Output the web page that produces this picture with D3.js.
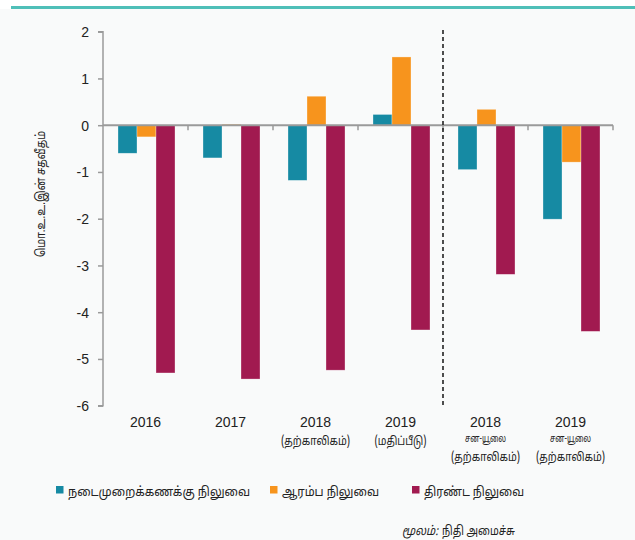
<!DOCTYPE html>
<html>
<head>
<meta charset="utf-8">
<script src="https://cdn.jsdelivr.net/npm/d3@7"></script>
<style>
  body { margin: 0; background: #ffffff; }
  svg { display: block; font-family: "Liberation Sans", Arial, sans-serif; }
  .ta { font-family: "Noto Sans Tamil", "Noto Sans Tamil UI", "Lohit Tamil", "Latha", "Noto Serif Tamil", "Liberation Sans", sans-serif; }
</style>
</head>
<body>
<svg id="chart" width="635" height="540"></svg>
<script>
// categories (main label + sub label lines)
const categories = ['2016', '2017', '2018', '2019', '2018 J', '2019 J'];
const catLabels = [
    ['2016'],
    ['2017'],
    ['2018', '(தற்காலிகம்)'],
    ['2019', '(மதிப்பீடு)'],
    ['2018', 'சன-யூலை', '(தற்காலிகம்)'],
    ['2019', 'சன-யூலை', '(தற்காலிகம்)']
];
const seriesNames = ['நடைமுறைக்கணக்கு  நிலுவை', 'ஆரம்ப  நிலுவை', 'திரண்ட  நிலுவை'];
const seriesColors = ['#168aa3', '#f7941d', '#a11a50'];
const currentBalance = [-0.6, -0.7, -1.18, 0.23, -0.95, -2.01];
const primaryBalance = [-0.25, 0.02, 0.62, 1.46, 0.34, -0.79];
const overallBalance = [-5.3, -5.43, -5.24, -4.38, -3.19, -4.41];
const yTicks = [2, 1, 0, -1, -2, -3, -4, -5, -6];

const series = [currentBalance, primaryBalance, overallBalance];

// rendered widths of the Tamil strings (reference font is narrower)
const tamilWidth = {
    '(தற்காலிகம்)': 69,
    '(மதிப்பீடு)': 52,
    'சன-யூலை': 41
};
const legendWidths = [182, 97, 100];

const svg = d3.select('#chart');
const plotLeft = 103, plotRight = 613, plotTop = 31.7, plotBottom = 405.7;

// page background and top rule
svg.append('rect').attr('x', 0).attr('y', 9).attr('width', 635).attr('height', 531).attr('fill', '#f9fafa');
svg.append('rect').attr('x', 11).attr('y', 6).attr('width', 624).attr('height', 3).attr('fill', '#4fbfb8');

const x = d3.scaleBand().domain(categories).range([plotLeft, plotRight]);
const xInner = d3.scaleBand().domain([0, 1, 2]).range([0, 57]);
const y = d3.scaleLinear().domain([-6, 2]).range([plotBottom, plotTop]);

// bars
series.forEach((vals, s) => {
    svg.append('g').selectAll('rect')
        .data(vals)
        .join('rect')
        .attr('x', (d, i) => x(categories[i]) + (x.bandwidth() - 57) / 2 + 1 + xInner(s))
        .attr('width', xInner.bandwidth())
        .attr('y', d => y(Math.max(0, d)))
        .attr('height', d => Math.abs(y(d) - y(0)))
        .attr('fill', seriesColors[s])
        .attr('stroke', 'rgba(255,255,255,0.5)')
        .attr('stroke-width', 0.6);
});

// y axis
let yAxis = d3.axisLeft(y).tickValues(yTicks).tickSize(5).tickPadding(9).tickFormat(d => String(d));
let yg = svg.append('g').attr('transform', `translate(${plotLeft},0)`).call(yAxis);
yg.attr('font-family', null);
yg.select('.domain').attr('stroke', '#9a9a9a').attr('stroke-width', 1.5).attr('d', `M-5,${plotTop}H0V${plotBottom}H-5`);
yg.selectAll('.tick line').attr('stroke', '#9a9a9a').attr('stroke-width', 1.5);
yg.selectAll('.tick text').attr('font-size', 14).attr('fill', '#222').attr('dy', '0.36em');

// x axis along zero
const boundaries = categories.map(c => x(c) + x.bandwidth());
svg.append('line').attr('x1', plotLeft).attr('x2', plotRight).attr('y1', y(0)).attr('y2', y(0))
    .attr('stroke', '#9a9a9a').attr('stroke-width', 2);
svg.append('g').selectAll('line')
    .data(boundaries)
    .join('line')
    .attr('x1', d => d).attr('x2', d => d)
    .attr('y1', y(0)).attr('y2', y(0) + 5)
    .attr('stroke', '#9a9a9a').attr('stroke-width', 1.5);

// dashed divider
svg.append('line')
    .attr('x1', x(categories[4])).attr('x2', x(categories[4]))
    .attr('y1', 30).attr('y2', 407)
    .attr('stroke', '#222').attr('stroke-width', 1.6)
    .attr('stroke-dasharray', '4,3');

// x labels
function tamilLabel(g, txt, yPos, size) {
    g.append('text').attr('class', 'ta')
        .attr('y', yPos).attr('x', -tamilWidth[txt] / 2)
        .attr('font-size', size).attr('fill', '#222')
        .attr('textLength', tamilWidth[txt]).attr('lengthAdjust', 'spacingAndGlyphs')
        .text(txt);
}
const labelG = svg.append('g').selectAll('g')
    .data(catLabels)
    .join('g')
    .attr('transform', (d, i) => `translate(${x(categories[i]) + x.bandwidth() / 2},0)`);
labelG.each(function (lines) {
    let g = d3.select(this);
    g.append('text').attr('y', 427).attr('text-anchor', 'middle').attr('font-size', 14).attr('fill', '#222').text(lines[0]);
    if (lines.length === 2) {
        tamilLabel(g, lines[1], 445, 12);
    } else if (lines.length === 3) {
        tamilLabel(g, lines[1], 442, 10.5);
        tamilLabel(g, lines[2], 461, 12);
    }
});

// y axis title
svg.append('text')
    .attr('class', 'ta')
    .attr('transform', 'translate(45,257) rotate(-90)')
    .attr('font-size', 13)
    .attr('fill', '#222')
    .attr('textLength', 126).attr('lengthAdjust', 'spacingAndGlyphs')
    .text('மொ.உ.உ.இன்  சதவீதம்');

// legend
const legendX = [56, 270, 412];
const legend = svg.append('g').selectAll('g')
    .data(seriesNames)
    .join('g')
    .attr('transform', (d, i) => `translate(${legendX[i]},490)`);
legend.append('rect').attr('x', 0).attr('y', -4).attr('width', 7.5).attr('height', 7.5).attr('fill', (d, i) => seriesColors[i]);
legend.append('text').attr('class', 'ta').attr('x', 12).attr('y', 5.5).attr('font-size', 12.8).attr('fill', '#222')
    .attr('textLength', (d, i) => legendWidths[i]).attr('lengthAdjust', 'spacingAndGlyphs')
    .text(d => d);

// source
svg.append('text').attr('class', 'ta').attr('x', 402).attr('y', 535).attr('font-size', 12.5).attr('fill', '#222')
    .attr('font-style', 'italic').attr('textLength', 36).attr('lengthAdjust', 'spacingAndGlyphs')
    .text('மூலம்:');
svg.append('text').attr('class', 'ta').attr('x', 442).attr('y', 535).attr('font-size', 12.5).attr('fill', '#222')
    .attr('textLength', 73).attr('lengthAdjust', 'spacingAndGlyphs')
    .text('நிதி  அமைச்சு');
</script>
</body>
</html>
